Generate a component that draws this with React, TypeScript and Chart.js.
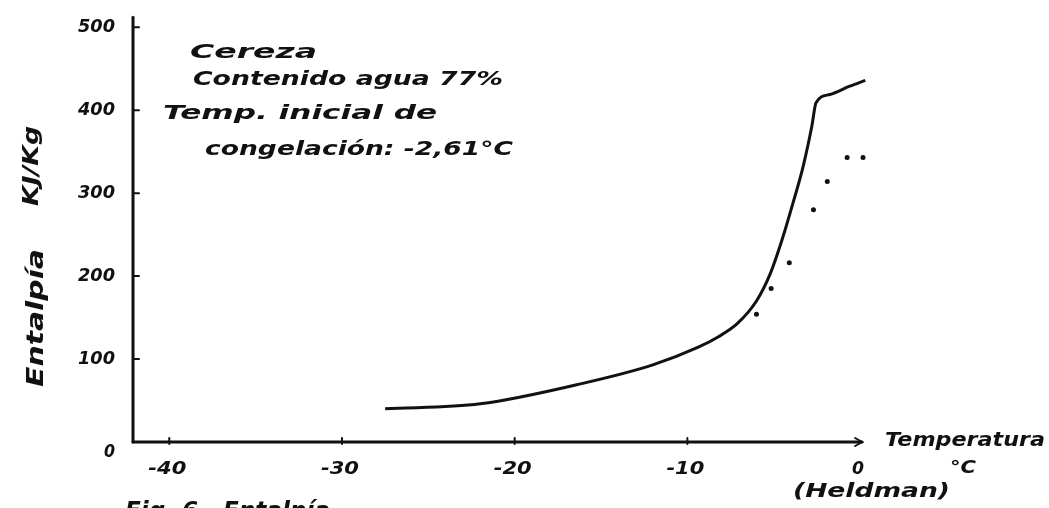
import React, { useEffect, useRef } from "react";
import { Chart, registerables } from "chart.js";

Chart.register(...registerables);

// Solid curve (Heldman): temperature (°C) vs enthalpy (kJ/kg)
const curveTemp = [-27.5, -22, -16, -12, -9.4, -8.2, -7.1, -6.0, -5.2, -4.5, -3.9, -3.3, -2.8, -2.55, -1.75, -0.6, 0.3];
const curveEnth = [40, 46, 71, 93, 114, 127, 143, 170, 203, 245, 287, 332, 380, 409, 419, 429, 436];

// Experimental dots
const dotTemp = [-6.0, -5.15, -4.1, -2.7, -1.9, -0.75, 0.17];
const dotEnth = [154, 185, 216, 280, 314, 343, 343];

const xTicks = [-40, -30, -20, -10, 0];
const xTickLabels = ["-40", "-30", "-20", "-10", "0"];
const yTicks = [0, 100, 200, 300, 400, 500];
const yTickLabels = ["0", "100", "200", "300", "400", "500"];

const notes = ["Cereza", "Contenido agua 77%", "Temp. inicial de", "congelación: -2,61°C"];
const yTitleMain = "Entalpía";
const yTitleUnit = "KJ/Kg";
const xTitle = "Temperatura";
const xUnit = "°C";
const source = "(Heldman)";
const caption = "Fig. 6.  Entalpía";

const FONT = "'DejaVu Sans'";

function stretchText(
  ctx: CanvasRenderingContext2D,
  text: string,
  x: number,
  y: number,
  width: number,
  size: number,
  align: "left" | "center" | "right" = "left",
  rot = 0,
  weight = "bold"
) {
  ctx.save();
  ctx.font = `italic ${weight} ${size}px ${FONT}`;
  ctx.textBaseline = "middle";
  ctx.textAlign = "left";
  const w = ctx.measureText(text).width;
  const s = width / w;
  ctx.translate(x, y);
  if (rot) ctx.rotate(rot);
  let off = 0;
  if (align === "center") off = -width / 2;
  if (align === "right") off = -width;
  ctx.translate(off, 0);
  ctx.scale(s, 1);
  ctx.fillStyle = "#111";
  ctx.fillText(text, 0, 0);
  ctx.restore();
}

const handPlugin = {
  id: "hand",
  afterDraw(chart: any) {
    const ctx: CanvasRenderingContext2D = chart.ctx;
    const xs = chart.scales.x;
    const ys = chart.scales.y;
    const x0 = xs.left;
    const y0 = ys.getPixelForValue(0);
    ctx.save();
    ctx.strokeStyle = "#111";
    ctx.lineWidth = 3;
    ctx.lineCap = "round";
    // y axis
    ctx.beginPath();
    ctx.moveTo(x0, y0);
    ctx.lineTo(x0, ys.getPixelForValue(512));
    ctx.stroke();
    // x axis
    const xEnd = xs.getPixelForValue(0) + 2;
    ctx.beginPath();
    ctx.moveTo(x0, y0);
    ctx.lineTo(xEnd, y0);
    ctx.stroke();
    // arrow head
    ctx.lineWidth = 2;
    ctx.beginPath();
    ctx.moveTo(xEnd - 7, y0 - 4);
    ctx.lineTo(xEnd, y0);
    ctx.lineTo(xEnd - 7, y0 + 4);
    ctx.stroke();
    // y ticks
    ctx.lineWidth = 2;
    yTicks.forEach((v) => {
      if (v === 0) return;
      const py = ys.getPixelForValue(v);
      ctx.beginPath();
      ctx.moveTo(x0, py);
      ctx.lineTo(x0 + 6, py);
      ctx.stroke();
    });
    // x ticks
    xTicks.forEach((v) => {
      if (v === 0) return;
      const px = xs.getPixelForValue(v);
      ctx.beginPath();
      ctx.moveTo(px, y0 - 4);
      ctx.lineTo(px, y0 + 2);
      ctx.stroke();
    });
    ctx.restore();

    // y tick labels
    yTicks.forEach((v, i) => {
      const py = ys.getPixelForValue(v);
      const lbl = yTickLabels[i];
      if (v === 0) {
        stretchText(ctx, lbl, x0 - 18, py + 10, 11, 18, "right");
      } else {
        stretchText(ctx, lbl, x0 - 18, py, 37, 18, "right");
      }
    });
    // x tick labels
    xTicks.forEach((v, i) => {
      const px = xs.getPixelForValue(v);
      const lbl = xTickLabels[i];
      const w = lbl.length === 3 ? 38 : 12;
      stretchText(ctx, lbl, px - 2, y0 + 27, w, 18, "center");
    });

    // annotations
    stretchText(ctx, notes[0], 190, 53, 127, 20);
    stretchText(ctx, notes[1], 193, 80, 310, 20);
    stretchText(ctx, notes[2], 163, 114, 274, 20);
    stretchText(ctx, notes[3], 205, 150, 308, 20);

    // axis titles
    stretchText(ctx, yTitleMain, 37, 318, 138, 23, "center", -Math.PI / 2);
    stretchText(ctx, yTitleUnit, 33, 166, 80, 21, "center", -Math.PI / 2);
    stretchText(ctx, xTitle, 885, 441, 160, 20);
    stretchText(ctx, xUnit, 950, 469, 26, 17);
    stretchText(ctx, source, 793, 492, 157, 20);
    stretchText(ctx, caption, 125, 512, 205, 25);
  },
};

export default function App() {
  const ref = useRef<HTMLCanvasElement>(null);
  useEffect(() => {
    if (!ref.current) return;
    const chart = new Chart(ref.current, {
      type: "line",
      data: {
        datasets: [
          {
            label: "Heldman",
            data: curveTemp.map((t, i) => ({ x: t, y: curveEnth[i] })),
            borderColor: "#111",
            borderWidth: 3,
            pointRadius: 0,
            cubicInterpolationMode: "monotone",
            fill: false,
          },
          {
            label: "Experimental",
            data: dotTemp.map((t, i) => ({ x: t, y: dotEnth[i] })),
            showLine: false,
            pointRadius: 2.5,
            pointBackgroundColor: "#111",
            pointBorderColor: "#111",
            pointBorderWidth: 0,
          },
        ],
      },
      options: {
        responsive: false,
        animation: false,
        layout: { padding: { left: 133, right: 182, top: 19, bottom: 66 } },
        plugins: { legend: { display: false }, tooltip: { enabled: false } },
        scales: {
          x: { type: "linear", min: -42.1, max: 0.4, display: false },
          y: { type: "linear", min: 0, max: 510, display: false },
        },
      },
      plugins: [handPlugin],
    });
    return () => chart.destroy();
  }, []);
  return (
    <div style={{ position: "fixed", left: 0, top: 0, width: 1049, height: 508, background: "#fff" }}>
      <canvas ref={ref} width={1049} height={508} />
    </div>
  );
}
